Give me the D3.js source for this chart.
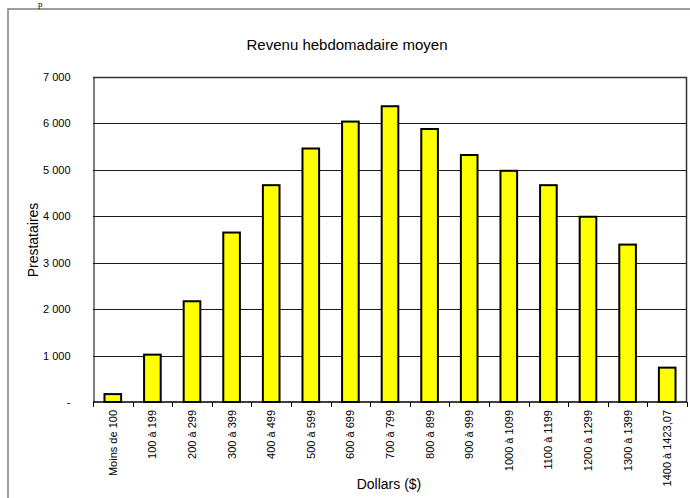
<!DOCTYPE html>
<html>
<head>
<meta charset="utf-8">
<script src="https://cdn.jsdelivr.net/npm/d3@7"></script>
<style>
  body { margin: 0; background: #fff; }
  svg { display: block; font-family: "Liberation Sans", Arial, sans-serif; }
</style>
</head>
<body>
<svg id="chart" width="690" height="498"></svg>
<script>
// data
var categories = ["Moins de 100", "100 à 199", "200 à 299", "300 à 399", "400 à 499",
  "500 à 599", "600 à 699", "700 à 799", "800 à 899", "900 à 999", "1000 à 1099",
  "1100 à 1199", "1200 à 1299", "1300 à 1399", "1400 à 1423,07"];
var prestataires = [170, 1020, 2170, 3650, 4670, 5460, 6040, 6370, 5880, 5320, 4980,
  4670, 3990, 3390, 740];
var yTicks = [0, 1000, 2000, 3000, 4000, 5000, 6000, 7000];

var svg = d3.select("#chart");
var margin = {top: 77, right: 3, bottom: 96, left: 93};
var width = +svg.attr("width"), height = +svg.attr("height");

// outer chart frame (runs off the page on right and bottom)
svg.append("rect")
  .attr("x", 8).attr("y", 9)
  .attr("width", 700).attr("height", 510)
  .attr("fill", "none")
  .attr("stroke", "#7f7f7f")
  .attr("stroke-width", 1.5);

// bit of page text above the frame
svg.append("text")
  .attr("x", 38).attr("y", 7)
  .attr("font-family", "Liberation Serif, serif")
  .attr("font-size", 9)
  .text("p");

var x = d3.scaleBand()
  .domain(categories)
  .range([margin.left, width - margin.right])
  .paddingInner(0.58).paddingOuter(0.29);

var y = d3.scaleLinear()
  .domain([0, 7000])
  .range([height - margin.bottom, margin.top]);

var fmt = function(v) { return v === 0 ? "-" : d3.format(",")(v).replace(",", " "); };

// gridlines
svg.append("g")
  .selectAll("line")
  .data(yTicks.filter(function(d) { return d > 0 && d < 7000; }))
  .join("line")
  .attr("x1", margin.left).attr("x2", width - margin.right)
  .attr("y1", function(d) { return Math.round(y(d)) + 0.5; })
  .attr("y2", function(d) { return Math.round(y(d)) + 0.5; })
  .attr("stroke", "#1a1a1a")
  .attr("stroke-width", 1);

// plot frame top + right
svg.append("path")
  .attr("d", "M" + margin.left + "," + (margin.top + 0.5) + "H" + (width - margin.right - 0.5) +
    "V" + y(0))
  .attr("fill", "none")
  .attr("stroke", "#333")
  .attr("stroke-width", 1.5);

// y axis
var yAxis = svg.append("g")
  .attr("transform", "translate(" + (margin.left + 0.5) + ",0)")
  .call(d3.axisLeft(y).tickValues(yTicks).tickFormat(fmt).tickSize(0).tickPadding(23));
yAxis.select(".domain").attr("stroke", "#000");
yAxis.selectAll("text").attr("font-size", 11).attr("fill", "#000")
  .attr("font-family", "Liberation Sans, Arial, sans-serif");

// bars
svg.append("g")
  .selectAll("rect")
  .data(prestataires)
  .join("rect")
  .attr("x", function(d, i) { return x(categories[i]); })
  .attr("y", function(d) { return y(d); })
  .attr("width", x.bandwidth())
  .attr("height", function(d) { return y(0) - y(d); })
  .attr("fill", "#ffff00")
  .attr("stroke", "#000")
  .attr("stroke-width", 2);

// x axis baseline and ticks between categories
var step = x.step();
var xg = svg.append("g");
xg.append("line")
  .attr("x1", margin.left).attr("x2", width - margin.right)
  .attr("y1", y(0)).attr("y2", y(0))
  .attr("stroke", "#000").attr("stroke-width", 1.5);
xg.selectAll(".tk")
  .data(d3.range(categories.length + 1))
  .join("line")
  .attr("class", "tk")
  .attr("x1", function(i) { return Math.round(margin.left + i * step) + 0.5; })
  .attr("x2", function(i) { return Math.round(margin.left + i * step) + 0.5; })
  .attr("y1", y(0)).attr("y2", y(0) + 5)
  .attr("stroke", "#000");

// x labels rotated
xg.selectAll(".lbl")
  .data(categories)
  .join("text")
  .attr("class", "lbl")
  .attr("transform", function(d) {
    return "translate(" + (x(d) + x.bandwidth() / 2 + 4) + "," + (y(0) + 8) + ") rotate(-90)";
  })
  .attr("text-anchor", "end")
  .attr("font-size", 11)
  .text(function(d) { return d; });

// titles
svg.append("text")
  .attr("x", 347).attr("y", 50)
  .attr("text-anchor", "middle")
  .attr("font-size", 15)
  .text("Revenu hebdomadaire moyen");

svg.append("text")
  .attr("transform", "translate(38,240) rotate(-90)")
  .attr("text-anchor", "middle")
  .attr("font-size", 14)
  .text("Prestataires");

svg.append("text")
  .attr("x", 389).attr("y", 489)
  .attr("text-anchor", "middle")
  .attr("font-size", 14)
  .text("Dollars ($)");
</script>
</body>
</html>
